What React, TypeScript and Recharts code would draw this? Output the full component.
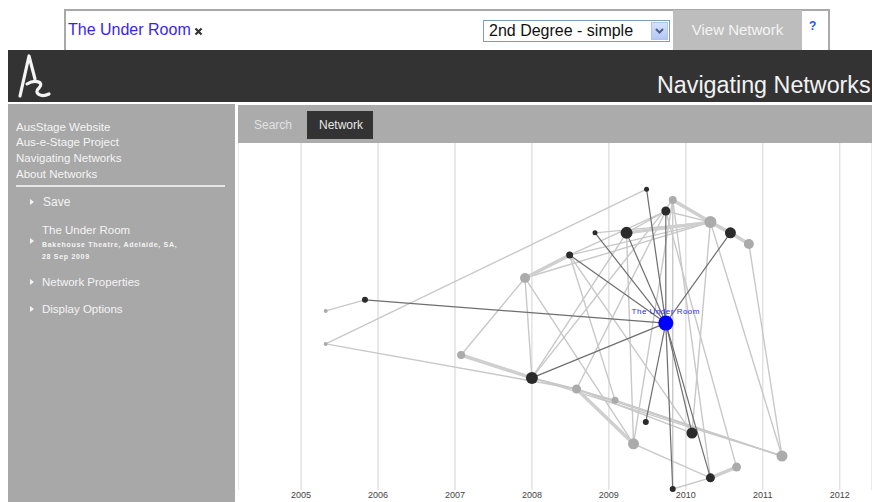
import React from 'react';
import { ScatterChart, Scatter, XAxis, YAxis, CartesianGrid } from 'recharts';

const FONT = "Arial, 'Liberation Sans', sans-serif";

// ---- data ----
const yearTicks = [2005, 2006, 2007, 2008, 2009, 2010, 2011, 2012];
const xDomain = [2004.18, 2012.42];
const rankDomain = [0, 100];

const nodeIds = ['A', 'B', 'C', 'D', 'E', 'F', 'G', 'H', 'I', 'J', 'K', 'L', 'M', 'N', 'O', 'P', 'Q', 'R', 'S', 'T', 'U', 'V', 'W', 'X', 'Z'];
const nodeYears = [2005.32, 2005.83, 2005.32, 2007.91, 2008.49, 2007.08, 2008.0, 2008.58, 2009.08, 2009.48, 2010.08, 2009.32, 2011.25, 2010.66, 2010.32, 2009.83, 2009.49, 2009.83, 2009.74, 2008.82, 2009.23, 2010.32, 2010.58, 2010.82, 2009.74];
const nodeRanks = [51.6, 54.8, 42.1, 61.1, 67.7, 38.9, 32.3, 29.1, 25.9, 19.6, 16.4, 13.3, 9.8, 6.6, 3.5, 0.3, 86.7, 83.6, 80.4, 74.1, 74.1, 77.2, 74.1, 70.9, 48.1];
const nodeWeights = [4, 6, 4, 10, 7, 8, 12, 9, 7, 6, 11, 11, 11, 9, 9, 6, 5, 8, 9, 5, 12, 12, 11, 10, 15];
const nodeKinds = ['light', 'dark', 'light', 'light', 'dark', 'light', 'dark', 'light', 'light', 'dark', 'dark', 'light', 'light', 'light', 'dark', 'dark', 'dark', 'light', 'dark', 'dark', 'dark', 'light', 'dark', 'light', 'focus'];
const focusLabel = 'The Under Room';

const strongEdges = [['Z', 'B'], ['Z', 'E'], ['Z', 'T'], ['Z', 'U'], ['Z', 'Q'], ['Z', 'S'], ['Z', 'W'], ['Z', 'G'], ['Z', 'J'], ['Z', 'K'], ['Z', 'O'], ['Z', 'P']];
const weakEdges = [['A', 'B'], ['C', 'Q'], ['C', 'H'], ['D', 'F'], ['D', 'G'], ['D', 'L'], ['D', 'V'], ['E', 'S'], ['E', 'V'], ['E', 'I'], ['E', 'K'], ['G', 'U'], ['G', 'H'], ['G', 'I'], ['G', 'M'], ['H', 'K'], ['H', 'M'], ['H', 'S'], ['I', 'M'], ['L', 'U'], ['L', 'R'], ['L', 'O'], ['P', 'O'], ['P', 'R'], ['V', 'M'], ['X', 'M'], ['S', 'N'], ['R', 'O'], ['R', 'G'], ['T', 'V'], ['S', 'V'], ['V', 'K'], ['S', 'U']];
const bundleEdges = [['D', 'E'], ['F', 'G'], ['H', 'L'], ['R', 'V'], ['U', 'V'], ['W', 'X'], ['N', 'O'], ['V', 'W']];

const sideLinks = ['AusStage Website', 'Aus-e-Stage Project', 'Navigating Networks', 'About Networks'];

// ---- derived ----
const nodes = nodeIds.map((id, i) => ({ id, x: nodeYears[i], y: nodeRanks[i], w: nodeWeights[i], kind: nodeKinds[i] }));
const byId: Record<string, any> = {};
nodes.forEach((n) => { byId[n.id] = n; });

const edgeStyle: Record<string, { stroke: string; strokeWidth: number }> = {
  weak: { stroke: '#c8c8c8', strokeWidth: 1.4 },
  bundle: { stroke: '#cfcfcf', strokeWidth: 3.5 },
  strong: { stroke: '#6e6e6e', strokeWidth: 1.2 },
};
const nodeFill: Record<string, string> = { light: '#ababab', dark: '#2b2b2b', focus: '#0000ff' };

const Empty = () => <g />;

const NodeShape = (props: any) => {
  const { cx, cy, payload } = props;
  const r = payload.w / 2;
  return (
    <g>
      <circle cx={cx} cy={cy} r={r} fill={nodeFill[payload.kind]} />
      {payload.kind === 'focus' ? (
        <text x={cx} y={cy - 9} textAnchor="middle" fontSize={8} fontFamily={FONT} letterSpacing={0.5} fill="#2a2aff">
          {focusLabel}
        </text>
      ) : null}
    </g>
  );
};

const edgeSeries = (list: string[][], kind: string) =>
  list.map(([a, b]) => (
    <Scatter
      key={`${kind}-${a}-${b}`}
      data={[byId[a], byId[b]]}
      line={edgeStyle[kind]}
      lineType="joint"
      shape={Empty}
      isAnimationActive={false}
    />
  ));

const Txt = ({ x, cy, size, color, children, bold, style }: any) => (
  <div
    style={{
      position: 'absolute', left: x, top: cy - size, height: size * 2, lineHeight: `${size * 2}px`,
      fontSize: size, color, fontWeight: bold ? 'bold' : 'normal', whiteSpace: 'nowrap', fontFamily: FONT, ...style,
    }}
  >
    {children}
  </div>
);

const Arrow = ({ x, cy }: any) => (
  <div style={{ position: 'absolute', left: x, top: cy - 3, width: 0, height: 0, borderTop: '3px solid transparent', borderBottom: '3px solid transparent', borderLeft: '4px solid #f2f2f2' }} />
);

export default function App() {
  return (
    <div style={{ position: 'absolute', left: 0, top: 0, width: 872, height: 502, overflow: 'hidden', background: '#fff', fontFamily: FONT }}>
      {/* top search box */}
      <div style={{ position: 'absolute', left: 64, top: 9, width: 766, height: 41, border: '2px solid #a9a9a9', borderBottom: 'none', boxSizing: 'border-box' }} />
      <Txt x={68} cy={30} size={16} color="#3a1ff5">The Under Room</Txt>
      <svg style={{ position: 'absolute', left: 194, top: 27 }} width={9} height={9}>
        <path d="M1.5 1.5 L7.5 7.5 M7.5 1.5 L1.5 7.5" stroke="#333" strokeWidth={2.2} />
      </svg>
      <div style={{ position: 'absolute', left: 483, top: 20, width: 187, height: 22, border: '1px solid #7f9db9', boxSizing: 'border-box', background: '#fff' }} />
      <Txt x={489} cy={31} size={16} color="#111">2nd Degree - simple</Txt>
      <div style={{ position: 'absolute', left: 651, top: 22, width: 17, height: 18, background: 'linear-gradient(#d6e2fc, #b4c8f4)', border: '1px solid #b0c4ee', boxSizing: 'border-box' }} />
      <svg style={{ position: 'absolute', left: 651, top: 22 }} width={17} height={18}>
        <polyline points="5,7 8.5,10.5 12,7" fill="none" stroke="#4d6185" strokeWidth={2} />
      </svg>
      <div style={{ position: 'absolute', left: 673, top: 10, width: 129, height: 40, background: '#bdbdbd' }} />
      <Txt x={673} cy={30} size={15} color="#f4f4f4" style={{ width: 129, textAlign: 'center' }}>View Network</Txt>
      <Txt x={809} cy={26} size={12} color="#2255ee" bold>?</Txt>

      {/* header */}
      <div style={{ position: 'absolute', left: 8, top: 50, width: 864, height: 52, background: '#333333' }} />
      <svg style={{ position: 'absolute', left: 14, top: 52 }} width={40} height={48}>
        <path d="M6 44 L15 4 L21 27" fill="none" stroke="#f4f4f4" strokeWidth={3.2} strokeLinecap="round" strokeLinejoin="round" />
        <path d="M13 32 C 21 27, 31 30, 25 36 C 19 41, 27 46, 35 42" fill="none" stroke="#f4f4f4" strokeWidth={3.2} strokeLinecap="round" />
      </svg>
      <Txt x={657} cy={85} size={23.3} color="#f2f2f2">Navigating Networks</Txt>

      {/* sidebar */}
      <div style={{ position: 'absolute', left: 8, top: 104, width: 227, height: 398, background: '#a8a8a8' }} />
      {sideLinks.map((s, i) => (
        <Txt key={s} x={16} cy={127 + i * 15.8} size={11.5} color="#f4f4f4">{s}</Txt>
      ))}
      <div style={{ position: 'absolute', left: 16, top: 185, width: 209, height: 1.5, background: '#e6e6e6' }} />
      <Arrow x={30} cy={202} />
      <Txt x={43} cy={202} size={12} color="#f4f4f4">Save</Txt>
      <Txt x={42} cy={230.5} size={11.5} color="#f4f4f4">The Under Room</Txt>
      <Arrow x={30} cy={241} />
      <Txt x={42} cy={245} size={7} color="#f4f4f4" bold style={{ letterSpacing: 0.7 }}>Bakehouse Theatre, Adelaide, SA,</Txt>
      <Txt x={42} cy={257} size={7} color="#f4f4f4" bold style={{ letterSpacing: 0.7 }}>28 Sep 2009</Txt>
      <Arrow x={30} cy={282} />
      <Txt x={42} cy={282} size={11.5} color="#f4f4f4">Network Properties</Txt>
      <Arrow x={30} cy={309} />
      <Txt x={42} cy={309} size={11.5} color="#f4f4f4">Display Options</Txt>

      {/* tab bar */}
      <div style={{ position: 'absolute', left: 238, top: 105, width: 634, height: 38, background: '#ababab' }} />
      <Txt x={254} cy={125} size={12} color="#e2e2e2">Search</Txt>
      <div style={{ position: 'absolute', left: 307, top: 111, width: 66, height: 28, background: '#333333' }} />
      <Txt x={319} cy={125} size={12} color="#e8e8e8">Network</Txt>

      {/* network chart */}
      <div style={{ position: 'absolute', left: 238, top: 143 }}>
        <ScatterChart width={634} height={359} margin={{ top: 0, right: 0, bottom: 0, left: 0 }}>
          <CartesianGrid horizontal={false} stroke="#e2e2e2" strokeWidth={1.5} />
          <XAxis
            dataKey="x"
            type="number"
            domain={xDomain}
            ticks={yearTicks}
            interval={0}
            axisLine={false}
            tickLine={false}
            tickSize={0}
            tickMargin={2}
            height={12}
            tick={{ fontSize: 9, fill: '#444', fontFamily: FONT }}
          />
          <YAxis dataKey="y" type="number" domain={rankDomain} hide />
          {edgeSeries(weakEdges, 'weak')}
          {edgeSeries(bundleEdges, 'bundle')}
          {edgeSeries(strongEdges, 'strong')}
          <Scatter data={nodes} shape={NodeShape} isAnimationActive={false} />
        </ScatterChart>
      </div>
    </div>
  );
}
